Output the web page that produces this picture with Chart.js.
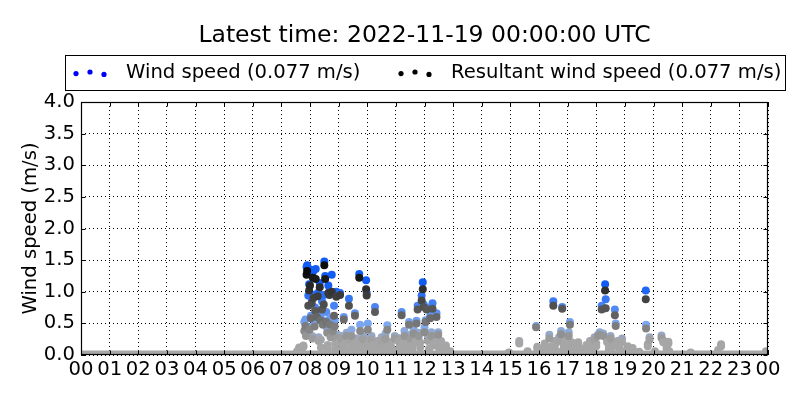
<!DOCTYPE html>
<html>
<head>
<meta charset="utf-8">
<script src="https://cdn.jsdelivr.net/npm/chart.js@4.4.0/dist/chart.umd.min.js"></script>
<style>
  html, body { margin: 0; padding: 0; background: #fff; }
  canvas { display: block; }
</style>
</head>
<body>
<canvas id="wind-chart" width="800" height="400"></canvas>
<script>
const titleText = 'Latest time: 2022-11-19 00:00:00 UTC';
const windLabel = 'Wind speed (0.077 m/s)';
const resultantLabel = 'Resultant wind speed (0.077 m/s)';
const yAxisLabel = 'Wind speed (m/s)';

const hourLabels = ['00', '01', '02', '03', '04', '05', '06', '07', '08', '09', '10', '11', '12',
    '13', '14', '15', '16', '17', '18', '19', '20', '21', '22', '23', '00'];

// observation times (hours of the day)
const obsHours = [
    7.55, 7.62, 7.70, 7.77, 7.80, 7.84, 7.86, 7.88, 7.90, 7.94,
    7.97, 7.98, 8.00, 8.03, 8.06, 8.08, 8.10, 8.12, 8.16, 8.18,
    8.20, 8.24, 8.27, 8.30, 8.34, 8.36, 8.38, 8.42, 8.45, 8.48,
    8.50, 8.53, 8.57, 8.60, 8.62, 8.64, 8.68, 8.70, 8.72, 8.76,
    8.80, 8.84, 8.86, 8.88, 8.92, 8.96, 9.02, 9.05, 9.10, 9.14,
    9.18, 9.22, 9.28, 9.32, 9.36, 9.40, 9.45, 9.48, 9.52, 9.57,
    9.62, 9.66, 9.72, 9.75, 9.80, 9.85, 9.90, 9.96, 9.98, 10.02,
    10.06, 10.10, 10.15, 10.20, 10.27, 10.30, 10.35, 10.42, 10.50, 10.58,
    10.64, 10.70, 10.76, 10.82, 10.90, 10.96, 11.03, 11.08, 11.14, 11.20,
    11.24, 11.30, 11.36, 11.42, 11.46, 11.52, 11.58, 11.62, 11.68, 11.72,
    11.76, 11.80, 11.85, 11.90, 11.94, 11.97, 12.00, 12.04, 12.07, 12.12,
    12.16, 12.20, 12.24, 12.28, 12.32, 12.38, 12.42, 12.48, 12.52, 12.58,
    12.65, 12.75, 12.90, 14.95, 15.31, 15.60, 15.90, 15.94, 16.05, 16.20,
    16.28, 16.36, 16.44, 16.50, 16.56, 16.62, 16.70, 16.77, 16.81, 16.86,
    16.92, 16.98, 17.04, 17.08, 17.14, 17.22, 17.30, 17.37, 17.45, 17.55,
    17.66, 17.78, 17.86, 17.94, 18.00, 18.06, 18.12, 18.19, 18.24, 18.31,
    18.33, 18.38, 18.44, 18.50, 18.56, 18.65, 18.68, 18.74, 18.82, 18.90,
    19.00, 19.10, 19.27, 19.50, 19.73, 19.74, 19.80, 19.86, 20.05, 20.28,
    20.34, 20.46, 20.52, 20.55, 21.30, 22.26, 22.36, 23.93
];

const windSpeed = [
    0.06, 0.12, 0.08, 0.15, 0.52, 0.56, 0.34, 1.39, 1.42, 0.94,
    1.12, 0.44, 1.35, 0.62, 0.88, 0.30, 1.31, 0.95, 0.50, 0.75,
    1.36, 0.65, 0.98, 0.28, 1.14, 0.62, 0.24, 0.85, 0.55, 0.95,
    1.48, 1.25, 0.68, 0.42, 0.16, 1.10, 1.00, 0.58, 0.33, 1.27,
    0.42, 0.78, 0.55, 0.18, 1.00, 0.32, 0.25, 0.98, 0.30, 0.12,
    0.60, 0.22, 0.35, 0.08, 0.89, 0.28, 0.40, 0.15, 0.20, 0.66,
    0.26, 0.10, 1.28, 0.48, 0.22, 0.32, 0.12, 1.18, 0.98, 0.50,
    0.26, 0.14, 0.30, 0.20, 0.76, 0.06, 0.22, 0.10, 0.28, 0.16,
    0.34, 0.47, 0.12, 0.20, 0.08, 0.30, 0.06, 0.27, 0.14, 0.68,
    0.24, 0.38, 0.10, 0.20, 0.52, 0.32, 0.15, 0.40, 0.25, 0.54,
    0.78, 0.35, 0.20, 0.94, 1.15, 0.80, 0.44, 0.55, 0.75, 0.30,
    0.10, 0.62, 0.36, 0.82, 0.20, 0.26, 0.66, 0.36, 0.12, 0.22,
    0.08, 0.15, 0.06, 0.04, 0.22, 0.06, 0.46, 0.13, 0.08, 0.18,
    0.10, 0.32, 0.14, 0.85, 0.22, 0.06, 0.28, 0.38, 0.76, 0.16,
    0.26, 0.10, 0.36, 0.52, 0.20, 0.08, 0.14, 0.20, 0.06, 0.10,
    0.16, 0.22, 0.10, 0.28, 0.18, 0.32, 0.36, 0.78, 0.34, 1.12,
    0.88, 0.24, 0.12, 0.30, 0.16, 0.72, 0.50, 0.22, 0.10, 0.26,
    0.06, 0.14, 0.11, 0.05, 1.02, 0.48, 0.17, 0.28, 0.06, 0.31,
    0.23, 0.14, 0.21, 0.06, 0.04, 0.08, 0.17, 0.06
];

const resultantSpeed = [
    0.04, 0.09, 0.05, 0.13, 0.38, 0.46, 0.30, 1.27, 1.33, 0.78,
    1.02, 0.40, 1.10, 0.58, 0.82, 0.26, 1.22, 0.90, 0.45, 0.70,
    1.20, 0.60, 0.93, 0.22, 1.07, 0.55, 0.12, 0.72, 0.48, 0.80,
    1.42, 1.20, 0.52, 0.35, 0.10, 0.98, 0.95, 0.48, 0.28, 1.00,
    0.37, 0.62, 0.45, 0.10, 0.92, 0.27, 0.20, 0.95, 0.25, 0.08,
    0.56, 0.18, 0.30, 0.05, 0.78, 0.22, 0.30, 0.10, 0.14, 0.62,
    0.20, 0.06, 1.22, 0.38, 0.16, 0.25, 0.08, 1.04, 0.94, 0.40,
    0.20, 0.08, 0.24, 0.16, 0.68, 0.04, 0.16, 0.06, 0.22, 0.10,
    0.26, 0.40, 0.08, 0.15, 0.05, 0.26, 0.04, 0.22, 0.10, 0.63,
    0.20, 0.30, 0.06, 0.15, 0.48, 0.26, 0.10, 0.34, 0.20, 0.50,
    0.72, 0.30, 0.12, 0.86, 1.04, 0.76, 0.36, 0.52, 0.72, 0.22,
    0.06, 0.58, 0.30, 0.73, 0.15, 0.20, 0.60, 0.32, 0.08, 0.18,
    0.05, 0.10, 0.04, 0.03, 0.18, 0.04, 0.44, 0.10, 0.05, 0.14,
    0.06, 0.26, 0.10, 0.78, 0.16, 0.04, 0.22, 0.33, 0.73, 0.10,
    0.20, 0.06, 0.30, 0.48, 0.14, 0.05, 0.10, 0.16, 0.04, 0.06,
    0.12, 0.18, 0.06, 0.24, 0.14, 0.30, 0.32, 0.72, 0.30, 1.02,
    0.74, 0.20, 0.08, 0.26, 0.12, 0.63, 0.46, 0.18, 0.06, 0.20,
    0.04, 0.10, 0.08, 0.03, 0.88, 0.42, 0.14, 0.24, 0.04, 0.27,
    0.20, 0.10, 0.18, 0.04, 0.02, 0.05, 0.14, 0.04
];

// calm readings along the whole day (drawn as the band on the axis)
const calmHours = [0, 24];
const calmSpeed = [0, 0];

// colour ramps: grey for light wind, towards blue / black for stronger wind
const windStops = [[0.2, [166, 166, 166]], [0.45, [128, 170, 240]], [1.1, [16, 92, 245]]];
const resultantStops = [[0.2, [166, 166, 166]], [0.6, [102, 102, 102]], [1.0, [52, 52, 52]], [1.3, [12, 12, 12]]];

function rampColor(v, stops) {
    if (v <= stops[0][0]) return `rgb(${stops[0][1].join(',')})`;
    for (let i = 1; i < stops.length; i++) {
        if (v <= stops[i][0]) {
            const [v0, c0] = stops[i - 1];
            const [v1, c1] = stops[i];
            const t = (v - v0) / (v1 - v0);
            const c = c0.map((a, k) => Math.round(a + (c1[k] - a) * t));
            return `rgb(${c.join(',')})`;
        }
    }
    return `rgb(${stops[stops.length - 1][1].join(',')})`;
}

const toPoints = (xs, ys) => xs.map((x, i) => ({ x: x, y: ys[i] }));

// title, legend, y label, frame and inward ticks (matplotlib look)
const decorations = {
    id: 'decorations',
    afterDraw(chart) {
        const { ctx, chartArea: a, scales: { x, y } } = chart;
        ctx.save();
        ctx.fillStyle = '#000';
        ctx.strokeStyle = '#000';
        ctx.lineWidth = 1;

        ctx.font = '23.5px "DejaVu Sans"';
        ctx.textAlign = 'center';
        ctx.textBaseline = 'alphabetic';
        ctx.fillText(titleText, (a.left + a.right) / 2, 42);

        // legend box
        ctx.strokeRect(65.5, 55.5, 720, 35);
        const dotOffsets = [1.6, 0, 2.4];
        const drawDots = (x0, color) => {
            ctx.fillStyle = color;
            dotOffsets.forEach((dy, i) => {
                ctx.beginPath();
                ctx.arc(x0 + i * 14, 72 + dy, 2.6, 0, Math.PI * 2);
                ctx.fill();
            });
        };
        drawDots(76, '#0000ff');
        drawDots(401, '#000000');
        ctx.fillStyle = '#000';
        ctx.font = '19.6px "DejaVu Sans"';
        ctx.textAlign = 'left';
        ctx.fillText(windLabel, 126, 78);
        ctx.fillText(resultantLabel, 451, 78);

        // y axis label
        ctx.save();
        ctx.translate(36, (a.top + a.bottom) / 2);
        ctx.rotate(-Math.PI / 2);
        ctx.textAlign = 'center';
        ctx.fillText(yAxisLabel, 0, 0);
        ctx.restore();

        // frame
        const L = Math.round(a.left) + 0.5, R = Math.round(a.right) - 0.5;
        const T = Math.round(a.top) + 0.5, B = Math.round(a.bottom) - 0.5;
        ctx.lineWidth = 1.2;
        ctx.strokeRect(L, T, R - L, B - T);

        // inward ticks on all sides
        ctx.lineWidth = 1;
        ctx.beginPath();
        x.ticks.forEach(t => {
            const px = Math.round(x.getPixelForValue(t.value)) + 0.5;
            ctx.moveTo(px, B); ctx.lineTo(px, B - 4);
            ctx.moveTo(px, T); ctx.lineTo(px, T + 4);
        });
        y.ticks.forEach(t => {
            const py = Math.round(y.getPixelForValue(t.value)) + 0.5;
            ctx.moveTo(L, py); ctx.lineTo(L + 4, py);
            ctx.moveTo(R, py); ctx.lineTo(R - 4, py);
        });
        ctx.stroke();
        ctx.restore();
    }
};

Chart.defaults.font.family = '"DejaVu Sans"';
Chart.defaults.font.size = 19.6;
Chart.defaults.color = '#000';

new Chart(document.getElementById('wind-chart'), {
    type: 'scatter',
    data: {
        datasets: [
            {
                label: resultantLabel,
                data: toPoints(obsHours, resultantSpeed),
                backgroundColor: c => rampColor(c.raw ? c.raw.y : 0, resultantStops),
                pointRadius: 4,
                borderWidth: 0,
                order: 1,
                clip: 0
            },
            {
                label: windLabel,
                data: toPoints(obsHours, windSpeed),
                backgroundColor: c => rampColor(c.raw ? c.raw.y : 0, windStops),
                pointRadius: 4,
                borderWidth: 0,
                order: 2,
                clip: 0
            },
            {
                type: 'line',
                label: 'calm',
                data: toPoints(calmHours, calmSpeed),
                borderColor: '#a6a6a6',
                borderWidth: 9,
                pointRadius: 0,
                order: 3,
                clip: 0
            }
        ]
    },
    options: {
        responsive: false,
        animation: false,
        events: [],
        layout: { padding: { top: 102, right: 32, bottom: 0, left: 0 } },
        plugins: {
            legend: { display: false },
            title: { display: false },
            tooltip: { enabled: false }
        },
        scales: {
            x: {
                type: 'linear',
                min: 0,
                max: 24,
                afterFit: s => { s.height = 45; },
                ticks: {
                    stepSize: 1,
                    autoSkip: false,
                    maxRotation: 0,
                    padding: 3,
                    callback: (v, i) => hourLabels[i]
                },
                grid: { color: '#000', lineWidth: 1, drawTicks: false },
                border: { display: false, dash: [1, 3] }
            },
            y: {
                min: 0,
                max: 4,
                afterFit: s => { s.width = 81; },
                ticks: {
                    stepSize: 0.5,
                    padding: 6,
                    callback: v => v.toFixed(1)
                },
                grid: { color: '#000', lineWidth: 1, drawTicks: false },
                border: { display: false, dash: [1, 3] }
            }
        }
    },
    plugins: [decorations]
});
</script>
</body>
</html>
